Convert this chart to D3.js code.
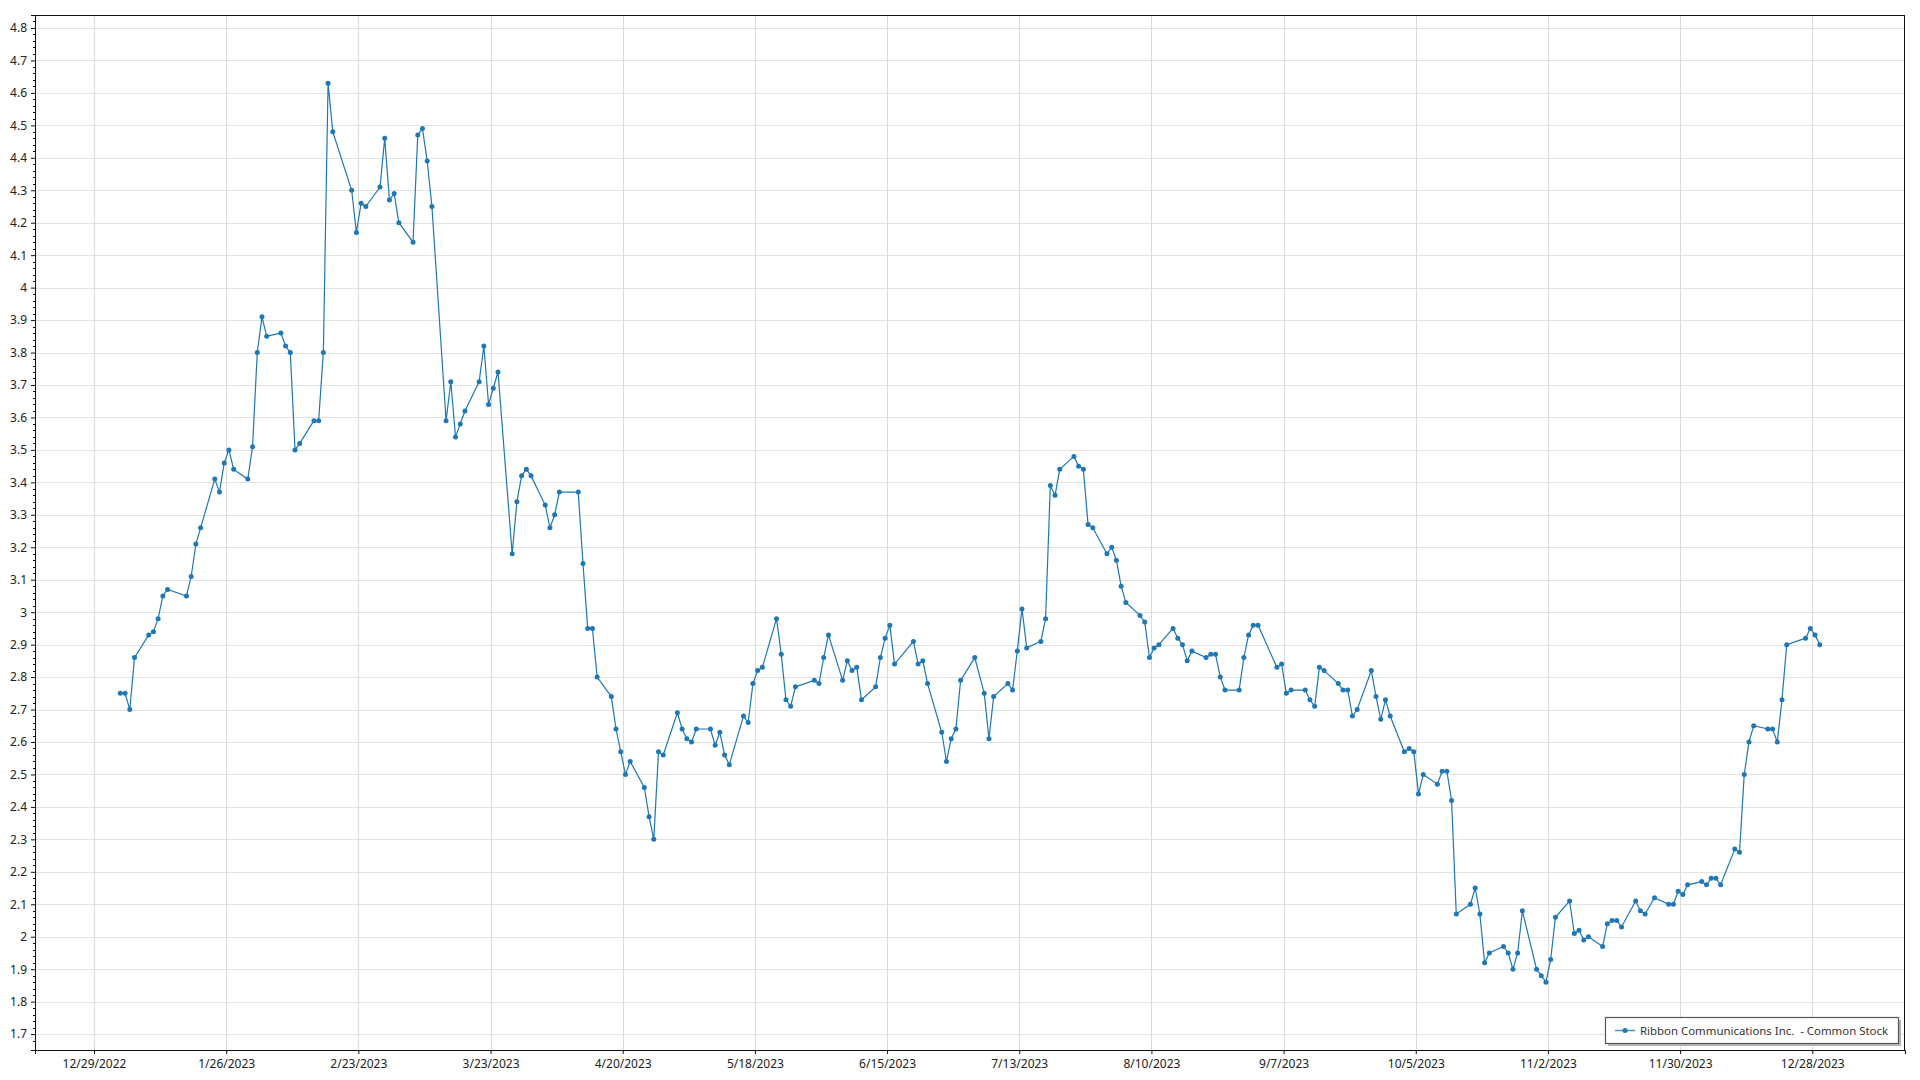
<!DOCTYPE html>
<html>
<head>
<meta charset="utf-8">
<script src="https://cdn.jsdelivr.net/npm/d3@7"></script>
<style>
  html, body { margin: 0; padding: 0; background: #fff; }
  svg { display: block; font-family: "Segoe UI", "Noto Sans", "Open Sans", sans-serif; }
</style>
</head>
<body>
<svg id="chart" width="1920" height="1080"></svg>
<script>
// ---- Data (daily close, 2023) ----
const seriesName = "Ribbon Communications Inc.  - Common Stock";
const closes = [
  ["2023-01-03",2.75],["2023-01-04",2.75],["2023-01-05",2.70],["2023-01-06",2.86],
  ["2023-01-09",2.93],["2023-01-10",2.94],["2023-01-11",2.98],["2023-01-12",3.05],["2023-01-13",3.07],
  ["2023-01-17",3.05],["2023-01-18",3.11],["2023-01-19",3.21],["2023-01-20",3.26],
  ["2023-01-23",3.41],["2023-01-24",3.37],["2023-01-25",3.46],["2023-01-26",3.50],["2023-01-27",3.44],
  ["2023-01-30",3.41],["2023-01-31",3.51],["2023-02-01",3.80],["2023-02-02",3.91],["2023-02-03",3.85],
  ["2023-02-06",3.86],["2023-02-07",3.82],["2023-02-08",3.80],["2023-02-09",3.50],["2023-02-10",3.52],
  ["2023-02-13",3.59],["2023-02-14",3.59],["2023-02-15",3.80],["2023-02-16",4.63],["2023-02-17",4.48],
  ["2023-02-21",4.30],["2023-02-22",4.17],["2023-02-23",4.26],["2023-02-24",4.25],
  ["2023-02-27",4.31],["2023-02-28",4.46],["2023-03-01",4.27],["2023-03-02",4.29],["2023-03-03",4.20],
  ["2023-03-06",4.14],["2023-03-07",4.47],["2023-03-08",4.49],["2023-03-09",4.39],["2023-03-10",4.25],
  ["2023-03-13",3.59],["2023-03-14",3.71],["2023-03-15",3.54],["2023-03-16",3.58],["2023-03-17",3.62],
  ["2023-03-20",3.71],["2023-03-21",3.82],["2023-03-22",3.64],["2023-03-23",3.69],["2023-03-24",3.74],
  ["2023-03-27",3.18],["2023-03-28",3.34],["2023-03-29",3.42],["2023-03-30",3.44],["2023-03-31",3.42],
  ["2023-04-03",3.33],["2023-04-04",3.26],["2023-04-05",3.30],["2023-04-06",3.37],
  ["2023-04-10",3.37],["2023-04-11",3.15],["2023-04-12",2.95],["2023-04-13",2.95],["2023-04-14",2.80],
  ["2023-04-17",2.74],["2023-04-18",2.64],["2023-04-19",2.57],["2023-04-20",2.50],["2023-04-21",2.54],
  ["2023-04-24",2.46],["2023-04-25",2.37],["2023-04-26",2.30],["2023-04-27",2.57],["2023-04-28",2.56],
  ["2023-05-01",2.69],["2023-05-02",2.64],["2023-05-03",2.61],["2023-05-04",2.60],["2023-05-05",2.64],
  ["2023-05-08",2.64],["2023-05-09",2.59],["2023-05-10",2.63],["2023-05-11",2.56],["2023-05-12",2.53],
  ["2023-05-15",2.68],["2023-05-16",2.66],["2023-05-17",2.78],["2023-05-18",2.82],["2023-05-19",2.83],
  ["2023-05-22",2.98],["2023-05-23",2.87],["2023-05-24",2.73],["2023-05-25",2.71],["2023-05-26",2.77],
  ["2023-05-30",2.79],["2023-05-31",2.78],["2023-06-01",2.86],["2023-06-02",2.93],
  ["2023-06-05",2.79],["2023-06-06",2.85],["2023-06-07",2.82],["2023-06-08",2.83],["2023-06-09",2.73],
  ["2023-06-12",2.77],["2023-06-13",2.86],["2023-06-14",2.92],["2023-06-15",2.96],["2023-06-16",2.84],
  ["2023-06-20",2.91],["2023-06-21",2.84],["2023-06-22",2.85],["2023-06-23",2.78],
  ["2023-06-26",2.63],["2023-06-27",2.54],["2023-06-28",2.61],["2023-06-29",2.64],["2023-06-30",2.79],
  ["2023-07-03",2.86],["2023-07-05",2.75],["2023-07-06",2.61],["2023-07-07",2.74],
  ["2023-07-10",2.78],["2023-07-11",2.76],["2023-07-12",2.88],["2023-07-13",3.01],["2023-07-14",2.89],
  ["2023-07-17",2.91],["2023-07-18",2.98],["2023-07-19",3.39],["2023-07-20",3.36],["2023-07-21",3.44],
  ["2023-07-24",3.48],["2023-07-25",3.45],["2023-07-26",3.44],["2023-07-27",3.27],["2023-07-28",3.26],
  ["2023-07-31",3.18],["2023-08-01",3.20],["2023-08-02",3.16],["2023-08-03",3.08],["2023-08-04",3.03],
  ["2023-08-07",2.99],["2023-08-08",2.97],["2023-08-09",2.86],["2023-08-10",2.89],["2023-08-11",2.90],
  ["2023-08-14",2.95],["2023-08-15",2.92],["2023-08-16",2.90],["2023-08-17",2.85],["2023-08-18",2.88],
  ["2023-08-21",2.86],["2023-08-22",2.87],["2023-08-23",2.87],["2023-08-24",2.80],["2023-08-25",2.76],
  ["2023-08-28",2.76],["2023-08-29",2.86],["2023-08-30",2.93],["2023-08-31",2.96],["2023-09-01",2.96],
  ["2023-09-05",2.83],["2023-09-06",2.84],["2023-09-07",2.75],["2023-09-08",2.76],
  ["2023-09-11",2.76],["2023-09-12",2.73],["2023-09-13",2.71],["2023-09-14",2.83],["2023-09-15",2.82],
  ["2023-09-18",2.78],["2023-09-19",2.76],["2023-09-20",2.76],["2023-09-21",2.68],["2023-09-22",2.70],
  ["2023-09-25",2.82],["2023-09-26",2.74],["2023-09-27",2.67],["2023-09-28",2.73],["2023-09-29",2.68],
  ["2023-10-02",2.57],["2023-10-03",2.58],["2023-10-04",2.57],["2023-10-05",2.44],["2023-10-06",2.50],
  ["2023-10-09",2.47],["2023-10-10",2.51],["2023-10-11",2.51],["2023-10-12",2.42],["2023-10-13",2.07],
  ["2023-10-16",2.10],["2023-10-17",2.15],["2023-10-18",2.07],["2023-10-19",1.92],["2023-10-20",1.95],
  ["2023-10-23",1.97],["2023-10-24",1.95],["2023-10-25",1.90],["2023-10-26",1.95],["2023-10-27",2.08],
  ["2023-10-30",1.90],["2023-10-31",1.88],["2023-11-01",1.86],["2023-11-02",1.93],["2023-11-03",2.06],
  ["2023-11-06",2.11],["2023-11-07",2.01],["2023-11-08",2.02],["2023-11-09",1.99],["2023-11-10",2.00],
  ["2023-11-13",1.97],["2023-11-14",2.04],["2023-11-15",2.05],["2023-11-16",2.05],["2023-11-17",2.03],
  ["2023-11-20",2.11],["2023-11-21",2.08],["2023-11-22",2.07],["2023-11-24",2.12],
  ["2023-11-27",2.10],["2023-11-28",2.10],["2023-11-29",2.14],["2023-11-30",2.13],["2023-12-01",2.16],
  ["2023-12-04",2.17],["2023-12-05",2.16],["2023-12-06",2.18],["2023-12-07",2.18],["2023-12-08",2.16],
  ["2023-12-11",2.27],["2023-12-12",2.26],["2023-12-13",2.50],["2023-12-14",2.60],["2023-12-15",2.65],
  ["2023-12-18",2.64],["2023-12-19",2.64],["2023-12-20",2.60],["2023-12-21",2.73],["2023-12-22",2.90],
  ["2023-12-26",2.92],["2023-12-27",2.95],["2023-12-28",2.93],["2023-12-29",2.90]
];
const xTickDates = ["2022-12-29","2023-01-26","2023-02-23","2023-03-23","2023-04-20","2023-05-18",
  "2023-06-15","2023-07-13","2023-08-10","2023-09-07","2023-10-05","2023-11-02","2023-11-30","2023-12-28"];
const xTickLabels = ["12/29/2022","1/26/2023","2/23/2023","3/23/2023","4/20/2023","5/18/2023",
  "6/15/2023","7/13/2023","8/10/2023","9/7/2023","10/5/2023","11/2/2023","11/30/2023","12/28/2023"];
const yTicks = [1.7,1.8,1.9,2,2.1,2.2,2.3,2.4,2.5,2.6,2.7,2.8,2.9,3,3.1,3.2,3.3,3.4,3.5,3.6,3.7,3.8,3.9,4,4.1,4.2,4.3,4.4,4.5,4.6,4.7,4.8];
const xDomain = ["2022-12-16T12:00","2024-01-16T15:20"];
const yDomain = [1.651, 4.840];

// ---- Layout ----
const plot = {left: 35, top: 15, right: 1905, bottom: 1050};
const lineColor = "#1f77b4";
const textColor = "#222";
const fontStack = "\"Segoe UI\", \"Noto Sans\", \"Open Sans\", sans-serif";
const pointShiftMs = 14 * 3600 * 1000; // points sit a little after the date's midnight gridline

const parseDay = d3.utcParse("%Y-%m-%d");
const parseDT = d3.utcParse("%Y-%m-%dT%H:%M");
const data = closes.map(([d, v]) => ({date: parseDay(d), value: v}));

const x = d3.scaleUtc().domain(xDomain.map(parseDT)).range([plot.left, plot.right]);
const y = d3.scaleLinear().domain(yDomain).range([plot.bottom, plot.top]);
const px = d => x(new Date(d.date.getTime() + pointShiftMs));

const svg = d3.select("#chart");
const W = plot.right - plot.left, H = plot.bottom - plot.top;

// gridlines
const grid = svg.append("g").attr("shape-rendering", "crispEdges");
grid.selectAll("line.h").data(yTicks).join("line")
  .attr("x1", plot.left).attr("x2", plot.right)
  .attr("y1", d => Math.round(y(d)) + 0.5).attr("y2", d => Math.round(y(d)) + 0.5)
  .attr("stroke", "#e2e2e2").attr("stroke-width", 1);
const xTicks = xTickDates.map(parseDay);
grid.selectAll("line.v").data(xTicks).join("line")
  .attr("y1", plot.top).attr("y2", plot.bottom)
  .attr("x1", d => Math.round(x(d)) + 0.5).attr("x2", d => Math.round(x(d)) + 0.5)
  .attr("stroke", "#dadada").attr("stroke-width", 1);

// frame
svg.append("rect").attr("x", plot.left + 0.5).attr("y", plot.top + 0.5)
  .attr("width", W - 1).attr("height", H)
  .attr("fill", "none").attr("stroke", "#111").attr("stroke-width", 1)
  .attr("shape-rendering", "crispEdges");

// y axis
const yAxis = d3.axisLeft(y).tickValues(yTicks).tickSize(4).tickPadding(4)
  .tickFormat(d => String(+d.toFixed(1)));
const gy = svg.append("g").attr("transform", `translate(${plot.left},0)`).call(yAxis);
gy.select(".domain").attr("stroke", "#111");
gy.selectAll(".tick line").attr("stroke", "#111");
gy.selectAll(".tick text").attr("fill", textColor).style("font-size", "12px").style("font-family", fontStack);
// minor ticks (every 0.02)
const minor = d3.range(Math.round(yDomain[0] * 50) + 1, Math.round(yDomain[1] * 50) + 1)
  .map(k => k / 50).filter(v => Math.abs(v * 10 - Math.round(v * 10)) > 1e-6 && v >= yDomain[0] && v <= yDomain[1]);
svg.append("g").selectAll("line").data(minor).join("line")
  .attr("x1", plot.left - 2).attr("x2", plot.left)
  .attr("y1", d => Math.round(y(d)) + 0.5).attr("y2", d => Math.round(y(d)) + 0.5)
  .attr("stroke", "#111").attr("shape-rendering", "crispEdges");

// x axis
const xAxis = d3.axisBottom(x).tickValues(xTicks).tickSize(4).tickPadding(5)
  .tickFormat((d, i) => xTickLabels[i]);
const gx = svg.append("g").attr("transform", `translate(0,${plot.bottom})`).call(xAxis);
gx.select(".domain").attr("stroke", "#111");
gx.selectAll(".tick line").attr("stroke", "#111");
gx.selectAll(".tick text").attr("fill", textColor).style("font-size", "12px").style("font-family", fontStack);

// series
const line = d3.line().x(px).y(d => y(d.value));
svg.append("path").datum(data)
  .attr("d", line).attr("fill", "none")
  .attr("stroke", lineColor).attr("stroke-width", 1.2);
svg.append("g").selectAll("circle").data(data).join("circle")
  .attr("cx", px).attr("cy", d => y(d.value)).attr("r", 2.5)
  .attr("fill", lineColor);

// legend
const lg = {x: 1605, y: 1017, w: 293, h: 26};
svg.append("rect").attr("x", lg.x + 3).attr("y", lg.y + 3).attr("width", lg.w).attr("height", lg.h)
  .attr("fill", "#b5b5b5");
svg.append("rect").attr("x", lg.x + 0.5).attr("y", lg.y + 0.5).attr("width", lg.w).attr("height", lg.h)
  .attr("fill", "#fff").attr("stroke", "#555").attr("stroke-width", 1.2);
svg.append("line").attr("x1", lg.x + 10).attr("x2", lg.x + 30)
  .attr("y1", lg.y + lg.h / 2 + 0.5).attr("y2", lg.y + lg.h / 2 + 0.5)
  .attr("stroke", lineColor).attr("stroke-width", 1.5).attr("opacity", 0.8);
svg.append("circle").attr("cx", lg.x + 20).attr("cy", lg.y + lg.h / 2 + 0.5).attr("r", 2.5)
  .attr("fill", lineColor);
svg.append("text").attr("x", lg.x + 35).attr("y", lg.y + lg.h / 2 + 4.5)
  .attr("fill", "#333").style("font-size", "11.5px").style("white-space", "pre")
  .attr("textLength", 248).attr("lengthAdjust", "spacingAndGlyphs")
  .text(seriesName);
</script>
</body>
</html>
